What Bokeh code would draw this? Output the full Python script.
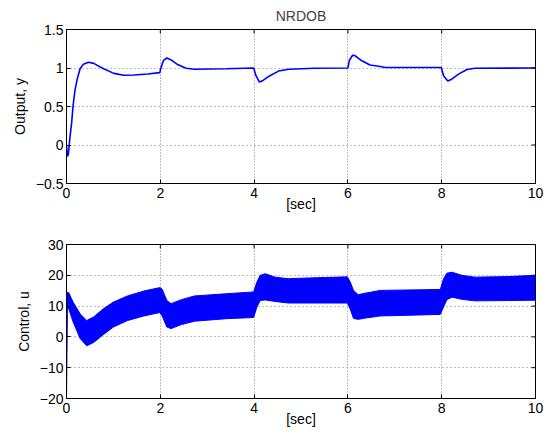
from bokeh.plotting import figure
from bokeh.layouts import column
from bokeh.models import Range1d, FixedTicker
from bokeh.embed import file_html
from bokeh.resources import INLINE

# ---- data ----
x_ticks = [0, 2, 4, 6, 8, 10]
x_labels = ["0", "2", "4", "6", "8", "10"]
y1_ticks = [-0.5, 0, 0.5, 1, 1.5]
y1_labels = ["\u22120.5", "0", "0.5", "1", "1.5"]
y2_ticks = [-20, -10, 0, 10, 20, 30]
y2_labels = ["\u221220", "\u221210", "0", "10", "20", "30"]

t_out = [0, 0.02, 0.04, 0.07, 0.11, 0.14, 0.18, 0.23, 0.29, 0.36, 0.47, 0.58, 0.79,
         1.01, 1.22, 1.44, 1.73, 1.99, 2.01, 2.07, 2.14, 2.23, 2.37, 2.55, 2.73, 3.4,
         3.99, 4.04, 4.11, 4.17, 4.31, 4.52, 4.74, 5.3, 6.0, 6.03, 6.1, 6.15, 6.29,
         6.47, 6.69, 6.8, 7.99, 8.04, 8.13, 8.2, 8.36, 8.54, 8.71, 10]
y_out = [0, -0.15, -0.12, 0.08, 0.29, 0.51, 0.71, 0.86, 0.99, 1.05, 1.075, 1.06, 0.99,
         0.93, 0.906, 0.91, 0.923, 0.94, 0.997, 1.1, 1.13, 1.105, 1.045, 0.997, 0.984, 0.99,
         1.0, 0.90, 0.82, 0.83, 0.89, 0.96, 0.984, 0.997, 1.0, 1.097, 1.166, 1.162, 1.097,
         1.04, 1.02, 1.006, 1.006, 0.90, 0.83, 0.85, 0.92, 0.98, 0.997, 1.0]

t_u = [0, 0.02, 0.05, 0.14, 0.29, 0.43, 0.58, 0.79, 1.0, 1.3, 1.65, 1.99, 2.04, 2.14,
       2.23, 2.45, 2.73, 3.4, 3.99, 4.06, 4.13, 4.24, 4.45, 4.73, 5.3, 5.99, 6.05, 6.12,
       6.22, 6.37, 6.69, 7.97, 8.04, 8.11, 8.22, 8.43, 8.71, 9.42, 10.0]
u_upper = [14.0, 14.5, 14.3, 11.3, 7.5, 5.3, 6.5, 9.2, 11.3, 13.3, 14.9, 16.0, 15.5, 11.8,
           10.8, 12.1, 13.3, 14.0, 14.6, 17.8, 20.0, 20.5, 19.4, 18.9, 19.2, 19.5, 17.8, 15.1,
           13.7, 14.2, 15.1, 15.4, 18.9, 20.7, 21.0, 20.0, 19.4, 19.6, 20.0]
u_lower = [-20, 9.5, 9.0, 4.9, -0.5, -2.9, -1.8, 0.8, 3.2, 5.3, 6.8, 7.9, 6.8, 3.2,
           2.7, 4.0, 5.1, 5.9, 6.3, 9.7, 11.8, 12.0, 11.5, 11.0, 11.0, 11.0, 9.0, 6.0,
           5.7, 6.1, 6.8, 7.3, 9.7, 12.1, 12.9, 12.2, 11.7, 11.8, 11.9]

FONT = "Liberation Sans"
FS = "14px"
BLUE = "#0000ff"


def style(p, yt, yl, ylabel):
    p.xaxis.ticker = FixedTicker(ticks=x_ticks)
    p.xaxis.major_label_overrides = dict(zip(x_ticks, x_labels))
    p.yaxis.ticker = FixedTicker(ticks=yt)
    p.yaxis.major_label_overrides = dict(zip(yt, yl))
    p.xaxis.axis_label = "[sec]"
    p.yaxis.axis_label = ylabel
    for ax in p.xaxis + p.yaxis:
        ax.major_tick_in = 4
        ax.major_tick_out = 0
        ax.minor_tick_line_color = None
        ax.axis_line_color = "black"
        ax.major_tick_line_color = "black"
        ax.major_label_text_font = FONT
        ax.major_label_text_font_size = FS
        ax.major_label_text_color = "black"
        ax.axis_label_text_font = FONT
        ax.axis_label_text_font_size = FS
        ax.axis_label_text_font_style = "normal"
        ax.axis_label_text_color = "black"
    p.xaxis.major_label_standoff = 4
    p.xaxis.axis_label_standoff = -5
    p.yaxis.major_label_standoff = 3
    p.yaxis.axis_label_standoff = 5
    p.xgrid[0].grid_line_dash = "1 2"
    p.ygrid[0].grid_line_dash = "1 3"
    for g in (p.xgrid[0], p.ygrid[0]):
        g.grid_line_color = "#808080"
        g.grid_line_width = 1
        g.grid_line_alpha = 1.0
    p.xgrid[0].ticker = FixedTicker(ticks=x_ticks)
    p.ygrid[0].ticker = FixedTicker(ticks=yt)
    # inner tick marks on the right and top edges (box style), clipped by the frame
    p.scatter([p.x_range.end] * len(yt), yt, marker="dash", size=8,
              line_color="black", line_width=1)
    p.scatter(x_ticks, [p.y_range.end] * len(x_ticks), marker="dash", size=8,
              angle=1.5707963, line_color="black", line_width=1)
    p.outline_line_color = "black"
    p.outline_line_width = 1
    p.background_fill_color = "white"
    p.border_fill_color = "white"


p1 = figure(width=545, height=222, output_backend="svg", toolbar_location=None,
            x_range=Range1d(0, 10), y_range=Range1d(-0.5, 1.5),
            min_border_left=66, min_border_right=10, min_border_top=29, min_border_bottom=39)
p1.title.text = "NRDOB"
p1.title.align = "center"
p1.title.text_font = FONT
p1.title.text_font_size = FS
p1.title.text_font_style = "normal"
p1.title.standoff = 11
p1.line(t_out, y_out, line_color=BLUE, line_width=1.6)
style(p1, y1_ticks, y1_labels, "Output, y")

p2 = figure(width=545, height=210, output_backend="svg", toolbar_location=None,
            x_range=Range1d(0, 10), y_range=Range1d(-20, 30),
            min_border_left=66, min_border_right=10, min_border_top=22, min_border_bottom=34)
p2.varea(x=t_u, y1=u_lower, y2=u_upper, fill_color=BLUE)
p2.line(t_u, u_upper, line_color=BLUE, line_width=1)
p2.line(t_u, u_lower, line_color=BLUE, line_width=1)
style(p2, y2_ticks, y2_labels, "Control, u")

layout = column(p1, p2, spacing=0)
open("out.html", "w").write(file_html(layout, INLINE))
